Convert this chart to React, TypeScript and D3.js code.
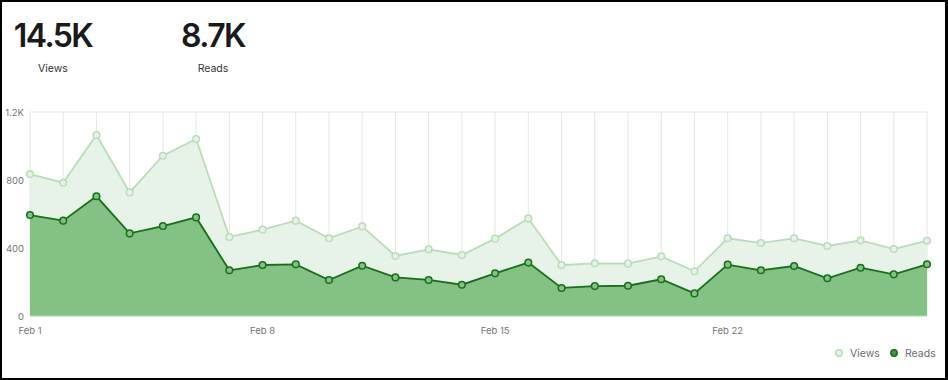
import React from "react";
import * as d3 from "d3";

const days = Array.from({ length: 28 }, (_, i) => i + 1);
const views = [835, 784, 1065, 727, 943, 1041, 465, 508, 561, 457, 527, 353, 392, 359, 455, 574, 300, 310, 308, 351, 263, 457, 429, 457, 412, 445, 394, 443];
const reads = [594, 561, 704, 486, 529, 580, 269, 300, 304, 212, 296, 227, 212, 184, 251, 314, 165, 176, 178, 216, 133, 302, 269, 294, 222, 284, 245, 304];
const yTicks = [0, 400, 800, 1200];
const xTickDays = [1, 8, 15, 22];
const totals = [
  { value: "14.5K", label: "Views" },
  { value: "8.7K", label: "Reads" },
];

const W = 948;
const H = 380;
const font = "Inter, 'Liberation Sans', Arial, sans-serif";

export default function App() {
  const x = d3.scaleLinear().domain([1, 28]).range([30, 927]);
  const y = d3.scaleLinear().domain([0, 1200]).range([316, 112]);

  const area = (vals: number[]) =>
    d3.area<number>().x((_, i) => x(days[i])).y0(y(0)).y1((d) => y(d))(vals) || "";
  const line = (vals: number[]) =>
    d3.line<number>().x((_, i) => x(days[i])).y((d) => y(d))(vals) || "";

  const yFmt = (v: number) => (v >= 1000 ? d3.format(".1f")(v / 1000) + "K" : String(v));

  const viewsStroke = "#b9dcb9";
  const viewsFill = "#e7f3e8";
  const readsStroke = "#1a6e1a";
  const readsFill = "#83c184";

  const headX = [53, 213];

  return (
    <div style={{ position: "fixed", left: 0, top: 0 }}>
      <svg width={W} height={H} style={{ display: "block" }}>
        <rect x={0} y={0} width={W} height={H} fill="#000" />
        <rect x={2} y={2} width={943} height={376} fill="#fff" />

        {totals.map((t, i) => (
          <g key={t.label}>
            <text
              x={headX[i]}
              y={47}
              textAnchor="middle"
              fontFamily={font}
              fontSize={32}
              fontWeight={600}
              letterSpacing={-1.6}
              fill="#1a1a1a"
            >
              {t.value}
            </text>
            <text x={headX[i]} y={72} textAnchor="middle" fontFamily={font} fontSize={10.5} fill="#333">
              {t.label}
            </text>
          </g>
        ))}

        {/* grid */}
        <line x1={x(1)} x2={x(28)} y1={y(1200)} y2={y(1200)} stroke="#e6e6e6" strokeWidth={1} />
        {days.map((d) => (
          <line key={d} x1={x(d)} x2={x(d)} y1={y(1200)} y2={y(0)} stroke="#e6e6e6" strokeWidth={1} />
        ))}

        {/* y labels */}
        {yTicks.map((t) => (
          <text key={t} x={24} y={y(t) + 3.5} textAnchor="end" fontFamily={font} fontSize={9.5} fill="#757575">
            {yFmt(t)}
          </text>
        ))}

        {/* x labels */}
        {xTickDays.map((d) => (
          <text key={d} x={x(d)} y={334} textAnchor="middle" fontFamily={font} fontSize={9.5} fill="#757575">
            {"Feb " + d}
          </text>
        ))}

        <path d={area(views)} fill={viewsFill} />
        <path d={area(reads)} fill={readsFill} />
        <line x1={x(1)} x2={x(28)} y1={y(0)} y2={y(0)} stroke="#a9d6a9" strokeWidth={1} />

        <path d={line(views)} fill="none" stroke={viewsStroke} strokeWidth={1.8} />
        {views.map((v, i) => (
          <circle key={"v" + i} cx={x(days[i])} cy={y(v)} r={3.3} fill={viewsFill} stroke={viewsStroke} strokeWidth={1.5} />
        ))}

        <path d={line(reads)} fill="none" stroke={readsStroke} strokeWidth={1.8} />
        {reads.map((v, i) => (
          <circle key={"r" + i} cx={x(days[i])} cy={y(v)} r={3.3} fill={readsFill} stroke={readsStroke} strokeWidth={1.5} />
        ))}

        {/* legend */}
        <circle cx={839} cy={353} r={3.2} fill={viewsFill} stroke={viewsStroke} strokeWidth={1.5} />
        <text x={850} y={357} fontFamily={font} fontSize={10.5} fill="#6b6b6b">Views</text>
        <circle cx={894} cy={353} r={3.2} fill="#3a9a3a" stroke={readsStroke} strokeWidth={1.5} />
        <text x={905} y={357} fontFamily={font} fontSize={10.5} fill="#6b6b6b">Reads</text>
      </svg>
    </div>
  );
}
